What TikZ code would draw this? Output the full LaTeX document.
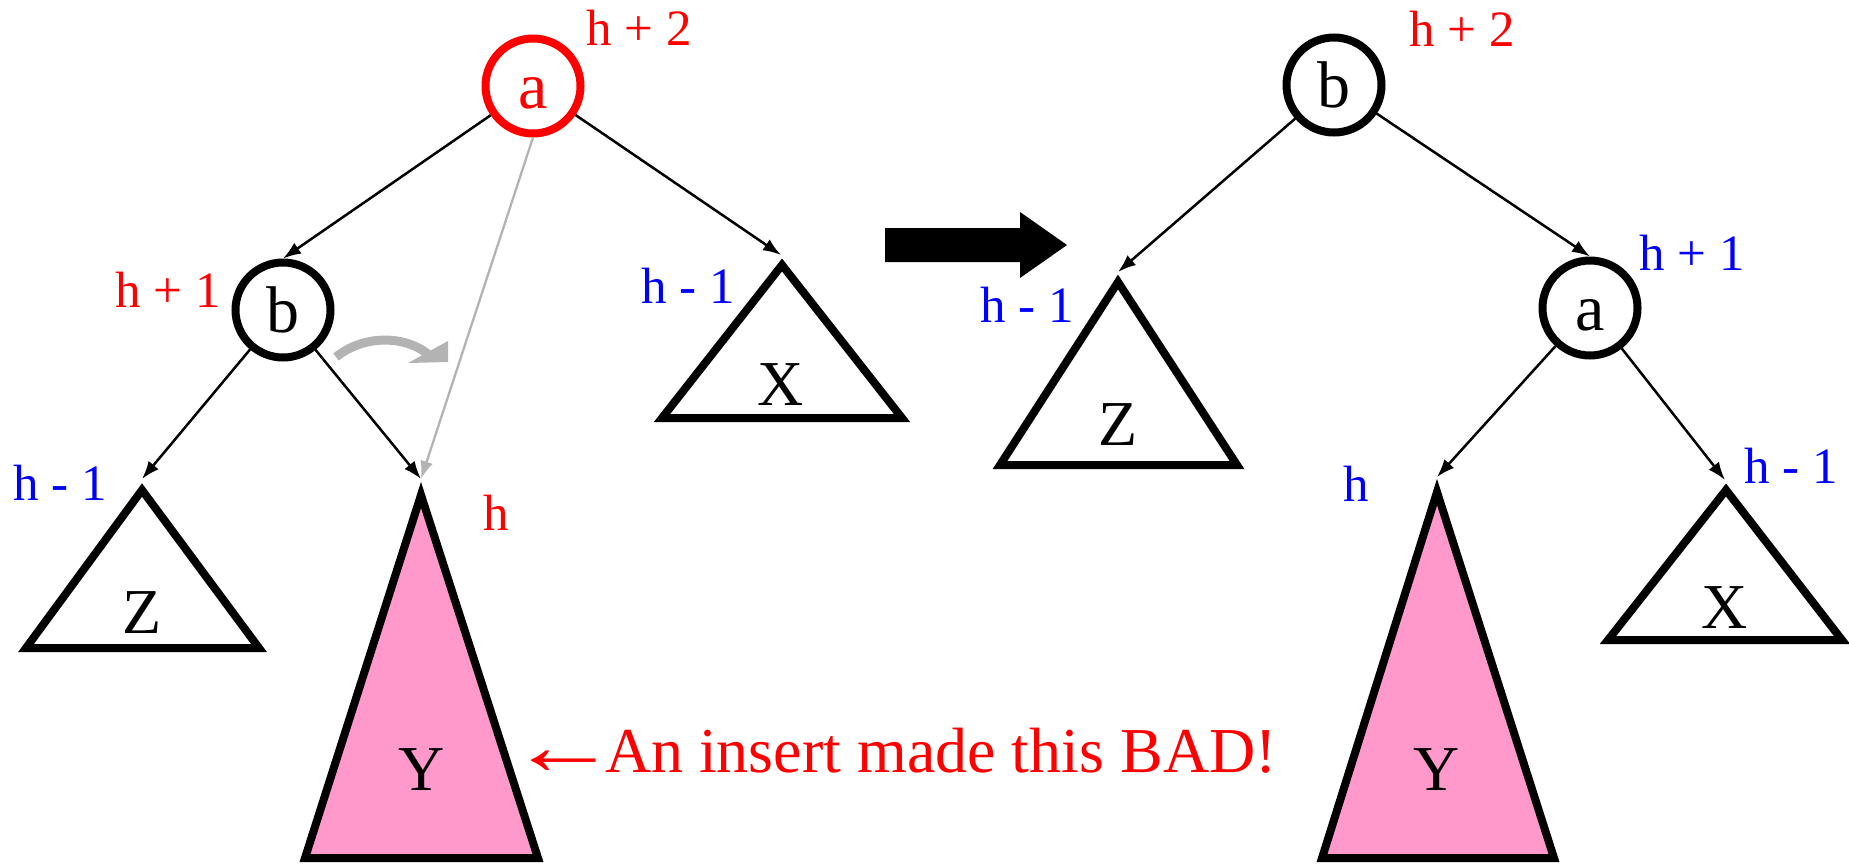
\documentclass[tikz,border=0pt]{standalone}
\usepackage{fontspec}
\setmainfont{Liberation Serif}
\usetikzlibrary{arrows.meta}
\definecolor{pinkY}{HTML}{FF99CC}
\definecolor{grayA}{HTML}{B3B3B3}
\definecolor{hred}{HTML}{FF0000}
\definecolor{hblue}{HTML}{0000FF}
\begin{document}
\begin{tikzpicture}[x=1pt,y=-1pt,
  treenode/.style={circle, draw, line width=8pt, minimum size=95pt, inner sep=0pt,
    text height=45pt, text depth=0pt, font=\fontsize{66}{66}\selectfont},
  subtree/.style={draw=black, line width=8pt, line join=miter},
  sublabel/.style={anchor=base, inner sep=0pt, font=\fontsize{64}{64}\selectfont},
  hlabel/.style={anchor=base, inner sep=0pt, font=\fontsize{51}{51}\selectfont},
  edge/.style={line width=2.5pt, -{Latex[length=18pt,width=13pt]}},
  grayedge/.style={draw=grayA, line width=2.3pt, -{Latex[length=18pt,width=13pt]}},
]
\useasboundingbox (0,0) rectangle (1849,865);

% ---------------- left tree ----------------
\node[treenode, draw=hred, text=hred] (a) at (533,86) {a};
\node[treenode] (b) at (283,310) {b};

% subtrees
\coordinate (LZtop) at (142,490);
\coordinate (LZl) at (26,648);
\coordinate (LZr) at (259,648);
\coordinate (LZtip) at (142,479);
\draw[subtree, fill=white] (LZtop) -- (LZl) -- (LZr) -- cycle;
\node[sublabel] (LZlab) at (142,633) {Z};

\coordinate (LYtop) at (421,495);
\coordinate (LYl) at (305,858);
\coordinate (LYr) at (538,858);
\coordinate (LYtip) at (421,479);
\draw[subtree, fill=pinkY] (LYtop) -- (LYl) -- (LYr) -- cycle;
\node[sublabel] (LYlab) at (422,790) {Y};

\coordinate (LXtop) at (782,265);
\coordinate (LXl) at (662,418);
\coordinate (LXr) at (902,418);
\coordinate (LXtip) at (781,255);
\draw[subtree, fill=white] (LXtop) -- (LXl) -- (LXr) -- cycle;
\node[sublabel] (LXlab) at (781,405) {X};

% edges
\draw[edge] (a) -- (b.north);
\draw[edge] (a) -- (LXtip);
\draw[edge] (b) -- (LZtip);
\draw[edge] (b) -- (LYtip);
\draw[grayedge] (a.south) -- (LYtip);

% curved gray arrow
\coordinate (cA) at (336,357);
\coordinate (cB) at (428,354);
\draw[grayA, line width=9pt] (cA) .. controls (362,336) and (402,334) .. (cB);
\fill[grayA] (448,341) -- (448,362) -- (408,363) -- cycle;

% labels
\node[hlabel, text=hred] (la2) at (639,45) {h + 2};
\node[hlabel, text=hred, anchor=base east] (lb1) at (221,307) {h + 1};
\node[hlabel, text=hblue] (lz1) at (60,500) {h - 1};
\node[hlabel, text=hblue] (lx1) at (688,303) {h - 1};
\node[hlabel, text=hred] (lyh) at (496,530) {h};

\node[anchor=base west, inner sep=0pt, text=hred, font=\fontsize{64}{64}\selectfont] (bad) at (509,772) {\raisebox{-2pt}{\scalebox{1.7}[1.3]{←}}\hspace{-13pt}An insert made this BAD!};

% ---------------- big arrow ----------------
\fill[black] (885,228) -- (1020,228) -- (1020,212) -- (1067,245) -- (1020,278) -- (1020,262) -- (885,262) -- cycle;

% ---------------- right tree ----------------
\node[treenode] (rb) at (1334,85) {b};
\node[treenode] (ra) at (1590,308) {a};

\coordinate (RZtop) at (1118,282);
\coordinate (RZl) at (1000,465);
\coordinate (RZr) at (1237,465);
\coordinate (RZtip) at (1118,272);
\draw[subtree, fill=white] (RZtop) -- (RZl) -- (RZr) -- cycle;
\node[sublabel] (RZlab) at (1118,445) {Z};

\coordinate (RYtop) at (1437,492);
\coordinate (RYl) at (1322,858);
\coordinate (RYr) at (1554,858);
\coordinate (RYtip) at (1437,477);
\draw[subtree, fill=pinkY] (RYtop) -- (RYl) -- (RYr) -- cycle;
\node[sublabel] (RYlab) at (1437,790) {Y};

\coordinate (RXtop) at (1726,490);
\coordinate (RXl) at (1608,640);
\coordinate (RXr) at (1842,640);
\coordinate (RXtip) at (1725,480);
\draw[subtree, fill=white] (RXtop) -- (RXl) -- (RXr) -- cycle;
\node[sublabel] (RXlab) at (1725,628) {X};

\draw[edge] (rb) -- (ra.north);
\draw[edge] (rb) -- (RZtip);
\draw[edge] (ra) -- (RYtip);
\draw[edge] (ra) -- (RXtip);

\node[hlabel, text=hred] (rb2) at (1462,46) {h + 2};
\node[hlabel, text=hblue] (ra1) at (1692,270) {h + 1};
\node[hlabel, text=hblue] (rz1) at (1027,322) {h - 1};
\node[hlabel, text=hblue] (ryh) at (1356,501) {h};
\node[hlabel, text=hblue] (rx1) at (1791,483) {h - 1};
\end{tikzpicture}
\end{document}
